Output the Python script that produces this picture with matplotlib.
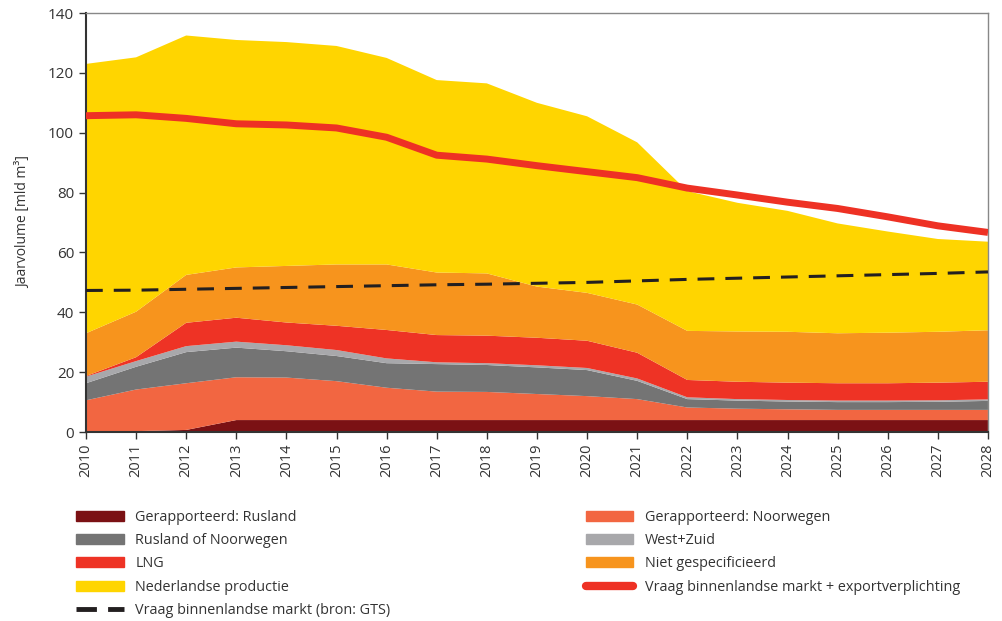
import matplotlib
matplotlib.use('Agg')
import matplotlib.pyplot as plt
from matplotlib.patches import Patch
from matplotlib.lines import Line2D

plt.rcParams['font.family'] = ['Open Sans', 'DejaVu Sans']

years = list(range(2010, 2029))

# stacked layers, bottom to top (mld m3)
rusland = [0, 0.3, 0.7, 4, 4, 4, 4, 4, 4, 4, 4, 4, 4, 4, 4, 4, 4, 4, 4]
noorwegen = [10.6, 13.9, 15.6, 14.3, 14.2, 13.0, 10.8, 9.5, 9.4, 8.7, 8.0, 7.0, 4.2, 3.8, 3.6, 3.4, 3.4, 3.4, 3.4]
rus_of_noor = [5.7, 7.6, 10.4, 9.9, 8.8, 8.4, 8.2, 9.2, 9.0, 8.9, 8.7, 6.1, 2.8, 2.7, 2.6, 2.6, 2.6, 2.7, 3.0]
west_zuid = [2.2, 1.9, 2.0, 2.0, 2.0, 2.0, 1.6, 0.6, 0.6, 0.7, 0.7, 0.8, 0.6, 0.5, 0.5, 0.5, 0.5, 0.5, 0.5]
lng = [0.2, 1.3, 7.8, 8.0, 7.6, 8.1, 9.5, 9.1, 9.2, 9.2, 9.1, 8.6, 5.8, 5.8, 5.8, 5.8, 5.8, 5.9, 5.9]
niet_gespec = [14.3, 15.2, 16.0, 16.8, 18.9, 20.5, 21.9, 20.9, 20.8, 17.1, 16.0, 16.1, 16.4, 16.8, 17.0, 16.7, 16.9, 17.0, 17.2]
nl_productie = [90.0, 85.0, 80.0, 76.0, 74.8, 73.0, 69.0, 64.3, 63.5, 61.4, 59.0, 54.2, 46.7, 43.0, 40.4, 36.7, 33.8, 31.0, 29.6]

vraag_export = [105.7, 106.0, 104.8, 103.0, 102.6, 101.6, 98.5, 92.5, 91.2, 89.0, 87.0, 85.0, 81.5, 79.2, 76.8, 74.7, 71.9, 68.9, 66.7]
vraag_gts = [47.3, 47.4, 47.7, 48.0, 48.3, 48.6, 48.9, 49.2, 49.4, 49.7, 50.0, 50.5, 51.0, 51.4, 51.8, 52.2, 52.6, 53.0, 53.5]

c_rus = '#7B1114'
c_noor = '#F26641'
c_grey = '#747474'
c_wz = '#A8A8AB'
c_lng = '#EE3325'
c_niet = '#F7941D'
c_nl = '#FFD500'
c_vraag = '#EE3124'
txt = '#333333'

fig = plt.figure(figsize=(10.03, 6.21), dpi=100)
ax = fig.add_axes([0.0857, 0.3043, 0.8993, 0.6747])

ax.stackplot(years, rusland, noorwegen, rus_of_noor, west_zuid, lng, niet_gespec, nl_productie,
             colors=[c_rus, c_noor, c_grey, c_wz, c_lng, c_niet, c_nl], linewidth=0)
ax.plot(years, vraag_export, color=c_vraag, lw=5, solid_capstyle='butt', zorder=3)
ax.plot(years, vraag_gts, color='#231F20', lw=2.2, dashes=(5.5, 3.6), zorder=4)

ax.set_xlim(2010, 2028)
ax.set_ylim(0, 140)
ax.set_yticks(range(0, 141, 20))
ax.set_xticks(years)
ax.set_xticklabels([str(y) for y in years], rotation=90)
ax.tick_params(axis='both', colors=txt, labelsize=11, direction='out', length=5, width=1)
ax.tick_params(axis='x', labelsize=10.5, pad=3)
for s in ['top', 'right']:
    ax.spines[s].set_color('#888888')
    ax.spines[s].set_linewidth(1)
for s in ['left', 'bottom']:
    ax.spines[s].set_color('#333333')
    ax.spines[s].set_linewidth(1.5)

ax.set_ylabel('Jaarvolume [mld m³]', fontsize=10, color=txt, labelpad=12)

handles = [
    Patch(color=c_rus, label='Gerapporteerd: Rusland'),
    Patch(color=c_grey, label='Rusland of Noorwegen'),
    Patch(color=c_lng, label='LNG'),
    Patch(color=c_nl, label='Nederlandse productie'),
    Line2D([], [], color='#231F20', lw=3.5, dashes=(4.2, 2.3), label='Vraag binnenlandse markt (bron: GTS)'),
    Patch(color=c_noor, label='Gerapporteerd: Noorwegen'),
    Patch(color=c_wz, label='West+Zuid'),
    Patch(color=c_niet, label='Niet gespecificieerd'),
    Line2D([], [], color=c_vraag, lw=6, solid_capstyle='round', label='Vraag binnenlandse markt + exportverplichting'),
]
leg = fig.legend(handles=handles, ncol=2, loc='upper left', bbox_to_anchor=(0.063, 0.2),
                 frameon=False, fontsize=10.4, handlelength=3.3, handleheight=0.7,
                 handletextpad=0.8, labelspacing=0.575, columnspacing=13.5, labelcolor=txt)

fig.savefig('out.png', dpi=100)
